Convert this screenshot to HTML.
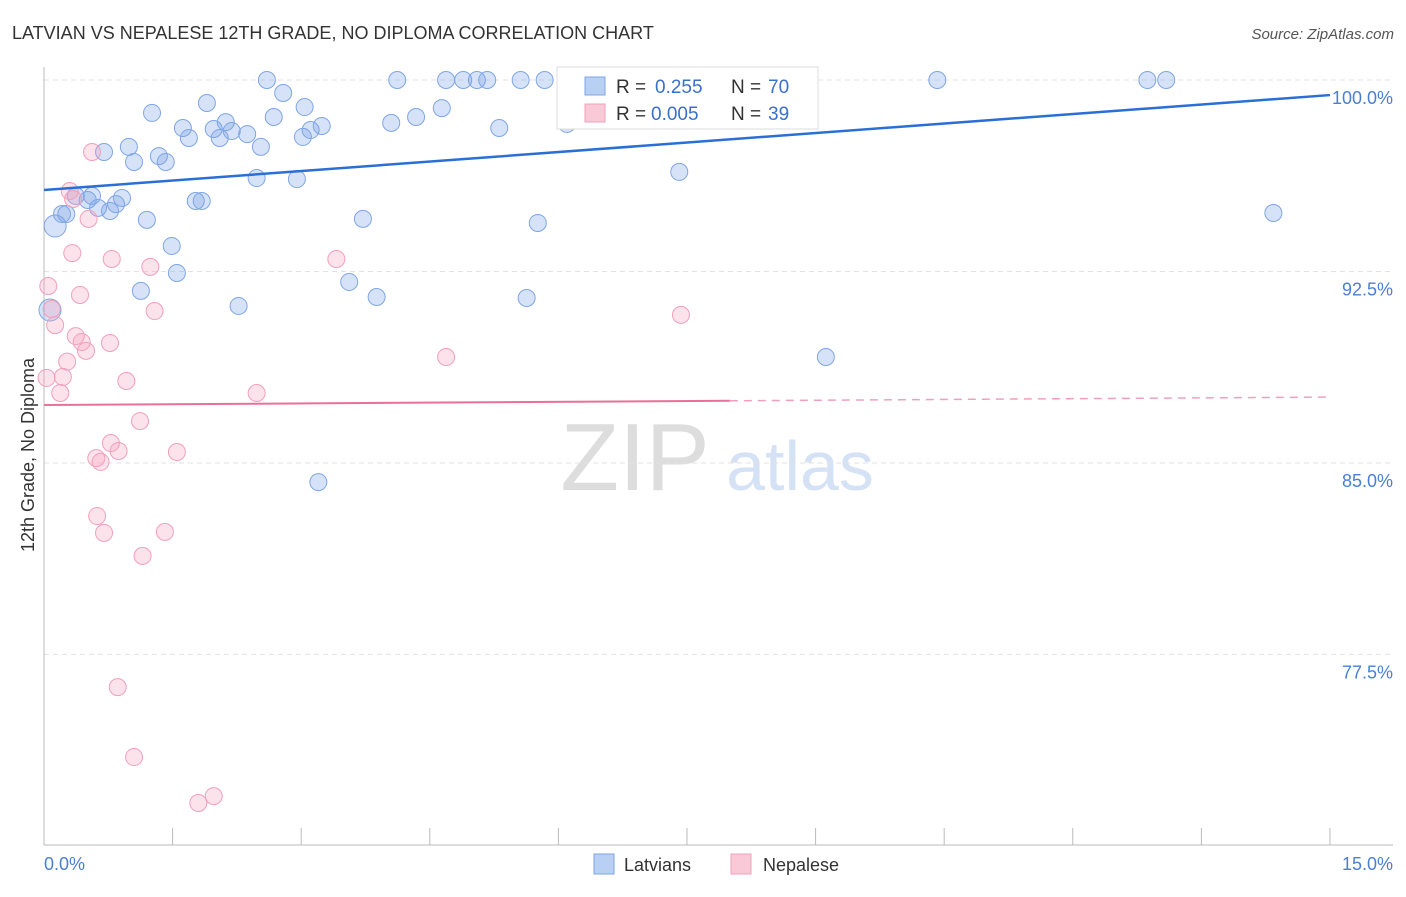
<!DOCTYPE html>
<html><head><meta charset="utf-8"><style>
body{margin:0;background:#fff;font-family:"Liberation Sans",sans-serif;}
svg text{font-family:"Liberation Sans",sans-serif;}
</style></head><body>
<svg id="chart" width="1406" height="892">
<text x="12" y="39" font-size="18" fill="#333">LATVIAN VS NEPALESE 12TH GRADE, NO DIPLOMA CORRELATION CHART</text>
<text x="1394" y="39" font-size="15" fill="#555" font-style="italic" text-anchor="end">Source: ZipAtlas.com</text>
<text x="635" y="490" font-size="96" fill="#ddd" font-family="Liberation Serif" text-anchor="middle">ZIP</text>
<text x="800" y="490" font-size="70" fill="#d5e2f5" text-anchor="middle">atlas</text>
<g id="grid"></g><g id="axes"></g><g id="pts"></g><g id="lines"></g>
<text x="34" y="455" font-size="18" fill="#333" transform="rotate(-90 34 455)" text-anchor="middle">12th Grade, No Diploma</text>
<text x="44" y="870" font-size="18" fill="#4a7fd4">0.0%</text>
<text x="1393" y="870" font-size="18" fill="#4a7fd4" text-anchor="end">15.0%</text>
<g>
<rect x="557" y="67" width="261" height="62" fill="#fff" stroke="#ddd"/>
<rect x="585" y="77" width="20" height="18" fill="#b7d0f3" stroke="#7fa6e6"/>
<rect x="585" y="104" width="20" height="18" fill="#f9c9d8" stroke="#f0a0bb"/>
<text x="616" y="93" font-size="19" fill="#333">R =</text>
<text x="655" y="93" font-size="19" fill="#3a70cc">0.255</text>
<text x="731" y="93" font-size="19" fill="#333">N =</text>
<text x="768" y="93" font-size="19" fill="#3a70cc">70</text>
<text x="616" y="120" font-size="19" fill="#333">R =</text>
<text x="651" y="120" font-size="19" fill="#3a70cc">0.005</text>
<text x="731" y="120" font-size="19" fill="#333">N =</text>
<text x="768" y="120" font-size="19" fill="#3a70cc">39</text>
</g>
<g><rect x="594" y="854" width="20" height="20" fill="#b7d0f3" stroke="#7fa6e6"/><text x="624" y="871" font-size="18" fill="#333">Latvians</text></g>
<g><rect x="731" y="854" width="20" height="20" fill="#f9c9d8" stroke="#f0a0bb"/><text x="763" y="871" font-size="18" fill="#333">Nepalese</text></g>
</svg>
<script>
const yTicks=[100,92.5,85,77.5];
const yTickLabels=["100.0%","92.5%","85.0%","77.5%"];
const latX=[0.13,0.26,0.21,0.37,0.56,0.51,0.63,0.77,0.84,0.91,0.70,0.99,1.05,1.26,1.34,1.42,1.20,1.49,1.55,1.13,1.62,1.69,1.77,1.84,1.90,1.98,2.05,2.12,2.19,2.37,2.53,2.48,2.60,2.79,2.68,3.04,3.02,3.11,3.24,2.95,2.27,3.72,3.56,3.88,3.20,4.05,4.12,4.34,4.64,4.69,4.89,5.05,5.17,5.31,5.56,5.84,5.63,5.76,6.10,6.49,7.41,7.97,8.50,9.12,10.42,12.87,13.09,14.34,0.07];
const latY=[94.28,94.75,94.75,95.46,95.46,95.30,94.99,94.87,95.14,95.38,97.18,97.38,96.79,98.71,97.02,96.79,94.52,93.50,92.44,91.74,98.12,97.73,95.26,95.26,99.10,98.08,97.73,98.35,98.00,97.88,97.38,96.16,100,99.49,98.55,98.94,97.77,98.04,98.20,96.12,91.15,94.56,92.09,91.50,84.25,98.32,100,98.55,98.90,100,100,100,100,98.12,100,100,91.46,94.40,98.28,99.76,96.40,100,98.79,89.15,100,100,100,94.79,90.99];
const nepX=[0.30,0.34,0.56,0.52,0.33,0.79,1.24,0.05,0.42,0.09,0.13,0.37,0.44,0.49,0.77,0.27,0.22,0.03,0.96,0.19,1.29,3.41,4.69,2.48,7.43,1.12,0.78,0.87,0.61,0.66,1.55,0.62,0.70,1.41,1.15,0.86,1.05,1.98,1.80];
const nepY=[95.65,95.34,97.18,94.56,93.22,92.99,92.68,91.93,91.58,91.03,90.40,89.97,89.74,89.39,89.70,88.97,88.37,88.33,88.21,87.74,90.95,92.99,89.15,87.74,90.80,86.64,85.78,85.47,85.19,85.04,85.43,82.92,82.26,82.30,81.36,76.22,73.48,71.95,71.68];
const latLine=[95.69,99.41];
const nepLine=[87.27,87.58];
const nepSolidEnd=8.0;
const NS="http://www.w3.org/2000/svg";
const X=v=>44+v*85.73, Y=v=>80+(100-v)*25.53;
function mk(t,a,p){const e=document.createElementNS(NS,t);for(const k in a)e.setAttribute(k,a[k]);document.getElementById(p).appendChild(e);return e;}
yTicks.forEach((t,i)=>{
 const g=mk('line',{x1:44,x2:1393,y1:Y(t),y2:Y(t),stroke:'#e2e2e2','stroke-dasharray':'5,4'},'grid');
 
 
 const l=mk('text',{x:1393,y:Y(t)+24,'font-size':18,fill:'#4a7fd4','text-anchor':'end'},'grid');
 l.textContent=yTickLabels[i];
 
 
});
const ax=mk('line',{x1:44,x2:44,y1:67,y2:845,stroke:'#bbb'},'axes');


const bx=mk('line',{x1:44,x2:1393,y1:845,y2:845,stroke:'#bbb'},'axes');


for(let i=0;i<=10;i++){
 const t=mk('line',{x1:X(i*1.5),x2:X(i*1.5),y1:828,y2:845,stroke:'#bbb'},'axes');
 
 
}
latX.forEach((x,i)=>{
 const c=mk('circle',{cx:X(x),cy:Y(latY[i]),r:(i==0||i==latX.length-1)?11:8.5,fill:'rgba(120,160,230,0.3)',stroke:'#7fa6e6','stroke-width':1},'pts');
 
 
});
nepX.forEach((x,i)=>{
 const c=mk('circle',{cx:X(x),cy:Y(nepY[i]),r:8.5,fill:'rgba(245,160,190,0.3)',stroke:'#f0a0bb','stroke-width':1},'pts');
 
 
});
const bl=mk('line',{x1:X(0),y1:Y(latLine[0]),x2:X(15),y2:Y(latLine[1]),stroke:'#2a6fd6','stroke-width':2.5},'lines');


const nm=nepLine[0]+(nepLine[1]-nepLine[0])*nepSolidEnd/15;
const pl=mk('line',{x1:X(0),y1:Y(nepLine[0]),x2:X(nepSolidEnd),y2:Y(nm),stroke:'#e8709a','stroke-width':2},'lines');


const pd=mk('line',{x1:X(nepSolidEnd),y1:Y(nm),x2:X(15),y2:Y(nepLine[1]),stroke:'#f0a0bb','stroke-width':1.5,'stroke-dasharray':'8,6'},'lines');


</script>
</body></html>
